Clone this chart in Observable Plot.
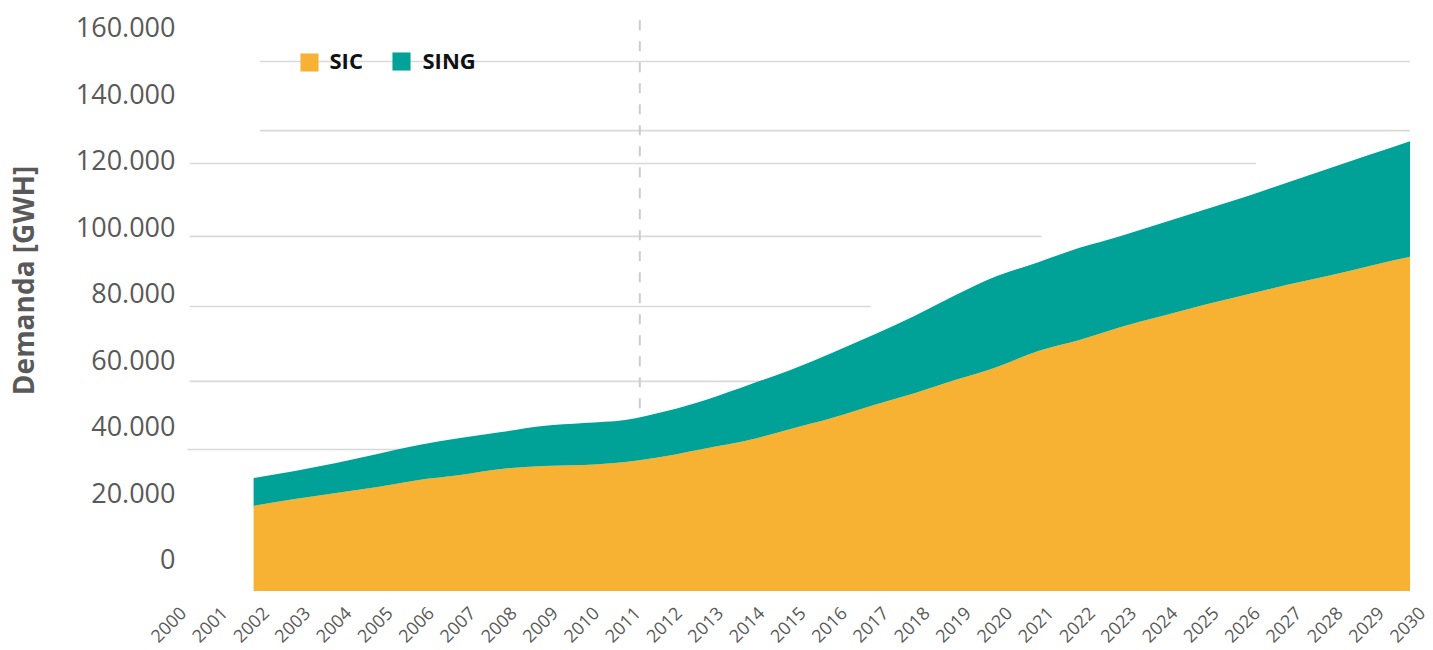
<!DOCTYPE html>
<html>
<head>
<meta charset="utf-8">
<script src="https://cdn.jsdelivr.net/npm/d3@7"></script>
<script src="https://cdn.jsdelivr.net/npm/@observablehq/plot@0.6"></script>
<style>
  html, body { margin: 0; padding: 0; background: #fff; }
  #chart svg { display: block; }
</style>
</head>
<body>
<div id="chart"></div>
<script>
// Categories
const years = [2002,2003,2004,2005,2006,2007,2008,2009,2010,2011,2012,2013,2014,2015,2016,
               2017,2018,2019,2020,2021,2022,2023,2024,2025,2026,2027,2028,2029,2030];
const seriesNames = ["SIC", "SING"];
const seriesColors = ["#F7B233", "#00A196"];

// Series values (GWh)
const sic  = [25600,27700,29500,31300,33400,34900,36700,37600,37900,38800,40600,43000,45400,48700,52000,
              55900,59500,63500,67400,72200,75500,79400,82700,86000,89000,92000,94700,97700,100500];
const sing = [8400,8400,9000,9900,10500,11100,11100,12000,12600,12600,13500,14700,16600,17800,19600,
              21100,23200,25500,27300,26700,27700,27400,28000,28600,29500,30700,32200,33400,34800];

// Tick labels
const yTicks = [0,20000,40000,60000,80000,100000,120000,140000,160000];
const xLabels = d3.range(2000, 2031);
const yTitle = "Demanda [GWH]";

// Background grid lines (value, start year, end year)
const gridValues = [42700, 63200, 85700, 106800, 128700, 138600, 159400];
const gridStart  = [2000.4, 2000.45, 2000.45, 2000.45, 2000.45, 2002.15, 2002.15];
const gridEnd    = [2030, 2030, 2016.94, 2021.08, 2026.27, 2030, 2030];

// Projection marker year
const markerYear = [2011];
const markerSpan = [55000, 172000];

const rows = [];
seriesNames.forEach((s, si) => {
  const vals = si === 0 ? sic : sing;
  years.forEach((y, i) => rows.push({year: y, series: s, value: vals[i]}));
});
const grid = gridValues.map((v, i) => ({v, x1: gridStart[i], x2: gridEnd[i]}));
const fmt = d => d3.format(",")(d).replace(/,/g, ".");

// legend items: swatch offset, label offset (from the frame's top-left corner)
const legendOffsets = [{sw: 138, tx: 158, dy: 3}, {sw: 230, tx: 251, dy: 2}];
const legendMarks = seriesNames.flatMap((s, i) => [
  Plot.dot([s], {frameAnchor: "top-left", dx: legendOffsets[i].sw, dy: legendOffsets[i].dy,
    fill: d => d, symbol: "square", r: 10.2}),
  Plot.text([s], {frameAnchor: "top-left", text: d => d, dx: legendOffsets[i].tx, dy: 2,
    textAnchor: "start", lineAnchor: "middle", fontSize: 22, fontWeight: "bold", fill: "#111"})
]);

const chart = Plot.plot({
  width: 1433,
  height: 650,
  marginLeft: 171,
  marginRight: 23,
  marginTop: 59,
  marginBottom: 59,
  style: {fontFamily: "'Open Sans', sans-serif", background: "#fff"},
  x: {domain: [2000, 2030], axis: null},
  y: {domain: [0, 160000], axis: null},
  color: {domain: seriesNames, range: seriesColors},
  marks: [
    Plot.ruleY(grid, {y: "v", x1: "x1", x2: "x2", stroke: "#d9d9d9", strokeWidth: 1.6}),
    Plot.ruleX(markerYear, {x: d => d, y1: markerSpan[0], y2: markerSpan[1], dx: 14,
      stroke: "#cccccc", strokeWidth: 2, strokeDasharray: "10,11"}),
    Plot.areaY(rows, {x: "year", y: "value", fill: "series", order: seriesNames, curve: "monotone-x"}),
    Plot.axisY({ticks: yTicks, tickSize: 0, tickPadding: 0, dx: 4, dy: -31, fontSize: 27,
      color: "#595959", tickFormat: fmt, label: null}),
    Plot.text(xLabels, {x: d => d, y: 0, text: d => String(d), rotate: -45, textAnchor: "end",
      dx: 12, dy: 19, fontSize: 18, fill: "#595959"}),
    ...legendMarks,
    Plot.text([yTitle], {frameAnchor: "left", text: d => d, rotate: -90, textAnchor: "middle",
      dx: -146, dy: -45, fontSize: 28, fontWeight: "bold", fill: "#595959"})
  ]
});

document.getElementById("chart").appendChild(chart);
</script>
</body>
</html>
